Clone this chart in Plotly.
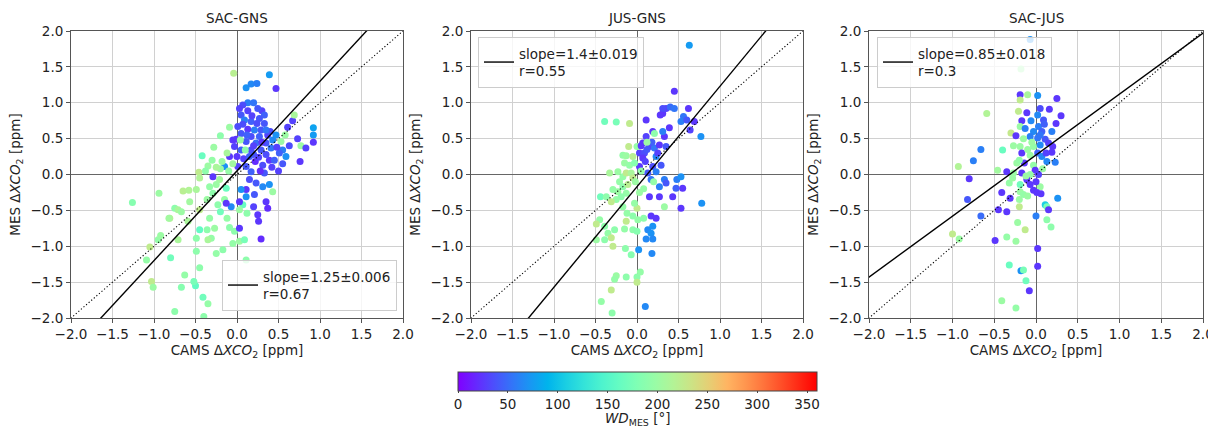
import numpy as np
import plotly.graph_objects as go

# ---------------- data ----------------
panel_titles = ["SAC-GNS", "JUS-GNS", "SAC-JUS"]
fit_slopes = [1.25, 1.4, 0.85]
fit_intercepts = [0.05, -0.17, 0.27]
fit_labels = ["slope=1.25±0.006<br>r=0.67", "slope=1.4±0.019<br>r=0.55", "slope=0.85±0.018<br>r=0.3"]
axis_ticks = [-2.0, -1.5, -1.0, -0.5, 0.0, 0.5, 1.0, 1.5, 2.0]
wd_ticks = [0, 50, 100, 150, 200, 250, 300, 350]

# SAC-GNS
sg_x = [-0.04, 0.39, 0.11, 0.17, 0.24, 0.47, 0.13, 0.20, 0.07, 0.03,
        0.13, 0.30, 0.33, 0.27, 0.05, 0.09, 0.17, 0.24, 0.33, 0.01,
        0.13, 0.21, 0.29, 0.05, 0.17, 0.27, 0.37, -0.01, 0.11, 0.23,
        0.35, -0.05, -0.03, 0.05, 0.17, 0.29, 0.41, -0.09, -0.20, -0.28,
        -0.42, -0.09, 0.04, 0.10, 0.53, 0.67, 0.61, 0.69, 0.92, 0.92,
        0.92, 0.73, 0.77, 0.83, 0.76, 0.55, 0.59, 0.51, 0.43, 0.47,
        0.39, 0.31, 0.22, 0.11, 0.17, 0.33, 0.01, -0.15, -0.29, -0.20,
        -1.26, -0.94, -0.65, -0.46, -0.45, -0.49, -0.57, -0.75, -0.71, -0.81,
        -0.67, -0.59, -0.45, -0.36, -0.29, -0.33, -0.25, -0.21, -0.13, -0.15,
        -0.23, -0.20, -0.33, -0.36, -0.27, -0.31, -0.35, -0.45, -0.49, -0.71,
        -0.95, -1.05, -1.09, -1.03, -1.01, -0.80, -0.63, -0.67, -0.75, -0.50,
        -0.45, -0.41, -0.35, -0.40, -0.49, -0.25, -0.17, -0.05, -0.03, 0.03,
        0.11, 0.03, 0.09, 0.07, 0.03, 0.26, 0.29, 0.25, 0.20, 0.21,
        0.11, 0.03, -0.07, -0.13, 0.35, 0.37, 0.43, 0.39, 0.31, 0.23,
        0.15, 0.11, 0.05, -0.92, -0.82, -0.58, -0.52, -0.12, -0.09, 0.12,
        -0.30, -0.35, -0.25, -0.18, -0.12, -0.38, -0.10, -0.05, 0.00, 0.08,
        0.15, 0.20, 0.26, 0.35, 0.45, 0.48, 0.40, 0.30, 0.20, 0.12,
        0.07, 0.25, 0.18, 0.35, 0.42, 0.28, 0.50, 0.55, 0.63, 0.58]
sg_y = [1.41, 1.39, 1.21, 1.26, 1.27, 1.20, 1.00, 1.00, 0.97, 0.92,
        0.89, 0.89, 0.83, 0.78, 0.83, 0.76, 0.74, 0.71, 0.71, 0.67,
        0.63, 0.62, 0.62, 0.57, 0.53, 0.53, 0.55, 0.49, 0.46, 0.44,
        0.44, 0.48, 0.39, 0.34, 0.34, 0.34, 0.37, 0.66, 0.54, 0.38,
        0.26, 0.25, 0.48, 0.34, 0.46, 0.75, 0.66, 0.83, 0.65, 0.55,
        0.45, 0.50, 0.40, 0.37, 0.18, 0.34, 0.25, 0.30, 0.48, 0.55,
        0.20, 0.13, 0.18, 0.11, 0.04, 0.02, 0.11, 0.11, -0.03, 0.08,
        -0.39, -0.26, -0.23, 0.03, -0.05, -0.21, -0.38, -0.47, -0.49, -0.61,
        -0.52, -0.65, -0.49, -0.35, -0.26, -0.17, -0.14, -0.07, -0.19, -0.35,
        -0.42, -0.52, -0.61, -0.77, -0.75, -0.89, -0.91, -0.77, -0.89, -0.91,
        -0.91, -1.01, -1.19, -1.49, -1.57, -1.16, -1.40, -1.57, -1.91, -1.55,
        -1.30, -1.71, -1.80, -1.98, -1.07, -1.10, -1.05, -0.96, -0.79, -0.93,
        -1.19, -0.75, -0.91, -0.42, -0.49, -0.65, -0.90, -0.56, -0.45, -0.28,
        -0.31, -0.38, -0.45, -0.40, -0.38, -0.47, -0.24, -0.14, -0.17, -0.12,
        -0.07, -0.21, -0.21, -0.85, -0.61, -0.22, -1.49, -0.61, -0.74, -0.54,
        0.20, 0.12, 0.10, 0.18, 0.30, 0.05, 0.05, 0.15, 0.25, 0.22,
        0.25, 0.28, 0.24, 0.28, 0.20, 0.38, 0.60, 0.45, 0.40, 0.55,
        0.70, 0.92, 0.82, 0.62, 0.10, 0.05, 0.05, 0.15, 0.40, 0.55]
sg_wd = [220, 75, 70, 65, 60, 25, 60, 55, 35, 30,
         30, 30, 45, 40, 40, 60, 45, 35, 40, 35,
         25, 60, 40, 40, 35, 45, 30, 25, 40, 50,
         40, 25, 30, 45, 35, 40, 55, 200, 190, 200,
         165, 25, 200, 190, 200, 30, 30, 210, 80, 75,
         25, 30, 200, 30, 25, 60, 70, 45, 65, 70,
         25, 35, 20, 40, 45, 40, 30, 70, 25, 200,
         185, 200, 220, 225, 215, 210, 205, 190, 210, 220,
         200, 210, 225, 200, 190, 195, 200, 205, 165, 195,
         190, 170, 195, 190, 200, 195, 210, 160, 190, 210,
         195, 225, 195, 225, 200, 170, 195, 185, 190, 160,
         190, 170, 195, 190, 190, 195, 190, 195, 190, 200,
         190, 25, 175, 165, 200, 25, 20, 25, 30, 40,
         70, 25, 65, 25, 25, 20, 200, 70, 65, 40,
         35, 25, 70, 200, 205, 215, 175, 195, 190, 190,
         195, 200, 210, 200, 210, 190, 195, 205, 25, 30,
         45, 40, 30, 35, 45, 30, 35, 25, 30, 45,
         35, 40, 30, 55, 30, 20, 30, 40, 35, 200]

# JUS-GNS
jg_x = [0.63, 0.45, 0.11, 0.31, 0.35, 0.40, 0.45, 0.31, 0.28, 0.62,
        0.56, 0.53, 0.60, 0.69, 0.64, 0.77, 0.39, 0.19, 0.11, 0.07,
        0.03, 0.09, 0.15, 0.21, 0.27, 0.33, 0.31, 0.35, 0.23, 0.29,
        0.19, 0.23, 0.13, 0.03, 0.07, 0.21, 0.48, 0.53, 0.47, 0.55,
        0.53, 0.43, 0.33, 0.35, 0.27, 0.17, 0.27, 0.15, 0.78, 0.17,
        0.23, 0.13, 0.19, 0.17, 0.11, 0.19, 0.02, 0.18, 0.10, 0.33,
        0.20, -0.39, -0.25, -0.09, -0.10, -0.17, -0.13, -0.05, 0.00, -0.15,
        -0.09, -0.03, -0.33, -0.23, -0.17, -0.13, -0.07, -0.05, -0.21, -0.17,
        -0.11, -0.13, -0.23, -0.29, -0.19, -0.25, -0.44, -0.37, -0.31, -0.17,
        0.00, -0.03, -0.05, 0.01, 0.08, -0.12, -0.13, -0.45, -0.49, -0.39,
        -0.35, -0.31, -0.27, -0.15, -0.05, 0.00, -0.49, -0.39, -0.29, -0.14,
        -0.07, -0.25, -0.27, -0.13, 0.00, 0.04, 0.00, -0.31, -0.43, -0.30,
        0.05, 0.12, 0.18, 0.25, 0.10, 0.05, -0.02, 0.08, 0.03, 0.12]
jg_y = [1.80, 1.16, 0.76, 0.85, 0.92, 0.94, 0.92, 0.92, 0.83, 0.92,
        0.81, 0.74, 0.76, 0.74, 0.62, 0.53, 0.65, 0.60, 0.53, 0.44,
        0.30, 0.30, 0.39, 0.37, 0.41, 0.53, 0.60, 0.39, 0.25, 0.13,
        0.11, 0.04, 0.02, 0.11, 0.23, 0.57, -0.07, -0.03, -0.19, -0.19,
        -0.47, -0.31, -0.07, -0.12, -0.17, -0.07, -0.31, -0.31, -0.40, -0.58,
        -0.61, -0.77, -0.72, -0.82, -0.90, -0.90, -1.05, -1.10, -1.84, -0.45,
        -0.10, 0.74, 0.73, 0.71, 0.39, 0.27, 0.26, 0.25, 0.39, 0.16,
        0.13, 0.16, 0.02, 0.04, -0.03, 0.02, 0.02, -0.05, -0.10, -0.17,
        -0.14, -0.26, -0.24, -0.21, -0.31, -0.35, -0.31, -0.31, -0.38, -0.45,
        -0.47, -0.40, -0.58, -0.63, -0.61, -0.54, -0.65, -0.63, -0.69, -0.72,
        -0.82, -0.88, -0.77, -0.76, -0.77, -0.79, -0.91, -0.91, -1.00, -1.03,
        -1.12, -1.41, -1.46, -1.43, -1.43, -1.36, -1.50, -1.61, -1.77, -1.93,
        0.40, 0.35, 0.45, 0.30, 0.18, 0.05, -0.10, -0.20, -0.25, 0.45]
jg_wd = [75, 25, 25, 25, 30, 50, 55, 35, 25, 25,
         55, 60, 40, 25, 30, 70, 25, 25, 30, 25,
         30, 35, 30, 55, 25, 25, 60, 40, 65, 40,
         35, 60, 40, 25, 25, 190, 60, 70, 45, 25,
         25, 25, 60, 40, 60, 55, 25, 25, 70, 25,
         25, 65, 70, 70, 65, 65, 70, 65, 65, 200,
         195, 170, 175, 225, 225, 195, 200, 220, 195, 200,
         195, 185, 210, 200, 195, 225, 210, 225, 195, 190,
         220, 195, 200, 195, 190, 195, 170, 190, 225, 195,
         225, 195, 190, 195, 190, 195, 225, 195, 225, 190,
         195, 225, 190, 195, 190, 185, 200, 190, 225, 190,
         185, 200, 195, 190, 190, 195, 225, 225, 195, 190,
         25, 40, 45, 30, 30, 195, 200, 195, 200, 200]

# SAC-JUS
sj_x = [-0.07, -0.18, -0.19, -0.10, 0.02, 0.25, -0.19, 0.05, 0.16, -0.11,
        -0.59, 0.30, -0.21, 0.02, -0.06, -0.17, 0.24, 0.09, 0.03, -0.19,
        -0.13, -0.03, 0.07, 0.19, -0.30, -0.24, -0.07, 0.02, 0.11, -0.27,
        -0.19, -0.03, 0.05, 0.15, -0.40, -0.66, 0.20, 0.19, -0.17, -0.07,
        0.02, 0.07, 0.13, 0.23, -0.75, -0.93, -0.23, -0.14, -0.03, -0.01,
        -0.46, -0.35, -0.27, -0.17, -0.07, -0.80, -0.11, -0.32, -0.19, -0.07,
        0.05, -0.41, -0.31, -0.19, -0.15, -0.03, 0.01, 0.06, -0.20, -0.82,
        0.26, -0.66, -0.45, -0.35, 0.11, 0.13, 0.15, -0.20, 0.00, 0.13,
        0.18, -0.22, -0.13, -1.00, -0.92, -0.49, -0.35, -0.24, 0.02, -0.32,
        -0.18, -0.12, 0.02, -0.08, -0.41, -0.24, -0.15, 0.08, -0.05, 0.10,
        -0.10, -0.20, -0.12, 0.00, 0.05, -0.15, 0.12, -0.28, -0.10, 0.03]
sj_y = [1.88, 1.47, 1.11, 1.11, 1.10, 1.06, 1.04, 0.92, 0.91, 0.86,
        0.85, 0.82, 0.88, 0.83, 0.75, 0.75, 0.71, 0.76, 0.67, 0.67,
        0.64, 0.60, 0.60, 0.60, 0.58, 0.54, 0.53, 0.51, 0.49, 0.40,
        0.39, 0.39, 0.41, 0.44, 0.34, 0.35, 0.39, 0.31, 0.30, 0.27,
        0.30, 0.25, 0.18, 0.17, 0.19, 0.11, 0.16, 0.16, 0.13, 0.06,
        0.06, 0.04, 0.02, 0.02, 0.00, -0.06, -0.07, -0.12, -0.14, -0.14,
        -0.17, -0.25, -0.33, -0.24, -0.28, -0.22, -0.25, -0.27, -0.35, -0.35,
        -0.33, -0.58, -0.49, -0.52, -0.42, -0.45, -0.49, -0.45, -0.58, -0.63,
        -0.73, -0.67, -0.77, -0.83, -0.90, -0.92, -0.87, -0.93, -1.03, -1.26,
        -1.34, -1.48, -1.28, -1.62, -1.76, -1.86, -1.33, 0.08, 0.45, 0.70,
        0.35, 0.20, -0.02, -0.10, 0.55, 0.50, 0.30, -0.05, -0.30, 0.00]
sj_wd = [70, 200, 25, 210, 70, 25, 225, 35, 25, 25,
         215, 25, 225, 65, 65, 25, 25, 40, 60, 200,
         60, 65, 45, 60, 228, 25, 60, 55, 40, 200,
         200, 195, 65, 30, 165, 60, 25, 25, 25, 200,
         45, 65, 65, 60, 60, 215, 200, 25, 195, 25,
         205, 25, 200, 25, 195, 25, 25, 195, 170, 25,
         200, 25, 25, 200, 195, 25, 25, 25, 200, 40,
         70, 50, 25, 25, 110, 175, 25, 225, 60, 190,
         190, 200, 225, 225, 200, 25, 195, 200, 25, 165,
         70, 170, 25, 25, 200, 195, 175, 200, 200, 45,
         200, 195, 200, 25, 55, 200, 30, 200, 200, 30]

panels = [(sg_x, sg_y, sg_wd), (jg_x, jg_y, jg_wd), (sj_x, sj_y, sj_wd)]

# ---------------- colormap (matplotlib 'rainbow') ----------------
stops = np.linspace(0, 1, 21)
rainbow = []
for s in stops:
    r = min(1.0, abs(2 * s - 0.5))
    g = np.sin(np.pi * s)
    b = np.cos(np.pi * s / 2)
    rainbow.append([float(s), f"rgb({int(round(r*255))},{int(round(g*255))},{int(round(b*255))})"])

# ---------------- layout geometry ----------------
W, H = 1208, 427
FONT = "DejaVu Sans"
FS = 13.5


def px_x(p):
    return p / W


def px_y(p):
    return 1 - p / H


x_doms = [(71, 403), (471, 803), (869, 1203)]
y_dom = [px_y(318), px_y(31)]

fig = go.Figure()
legend_pos = [
    dict(x=px_x(397), y=px_y(311), xanchor="right", yanchor="bottom"),
    dict(x=px_x(478), y=px_y(37), xanchor="left", yanchor="top"),
    dict(x=px_x(877), y=px_y(37), xanchor="left", yanchor="top"),
]
line_x = np.array([-2.5, 2.5])

for i, (px, py, pwd) in enumerate(panels):
    sfx = "" if i == 0 else str(i + 1)
    xa, ya = "x" + sfx, "y" + sfx
    lg = "legend" + sfx
    fig.add_trace(go.Scatter(
        x=px, y=py, mode="markers", xaxis=xa, yaxis=ya, showlegend=False,
        marker=dict(size=7, color=pwd, coloraxis="coloraxis", line=dict(width=0)),
    ))
    fig.add_trace(go.Scatter(
        x=line_x, y=line_x, mode="lines", xaxis=xa, yaxis=ya, showlegend=False,
        line=dict(color="black", width=1.1, dash="1.2px,2.2px"),
    ))
    fig.add_trace(go.Scatter(
        x=line_x, y=fit_slopes[i] * line_x + fit_intercepts[i], mode="lines",
        xaxis=xa, yaxis=ya, name=fit_labels[i], legend=lg, showlegend=True,
        line=dict(color="black", width=1.4),
    ))
    axcommon = dict(
        range=[-2, 2], tickvals=axis_ticks, tickformat=".1f",
        showgrid=True, gridcolor="#d0d0d0", gridwidth=1,
        zeroline=True, zerolinecolor="#666666", zerolinewidth=1.2,
        showline=True, linecolor="#555555", linewidth=1, mirror=True,
        ticks="outside", ticklen=4, tickcolor="#555555",
        tickfont=dict(family=FONT, size=FS, color="#222"),
        automargin=False, ticklabeloverflow="allow",
    )
    fig.layout["xaxis" + sfx] = dict(
        axcommon, domain=[px_x(x_doms[i][0]), px_x(x_doms[i][1])], anchor=ya,
        title=dict(text="CAMS Δ<i>XCO</i><sub>2</sub> [ppm]", standoff=2,
                   font=dict(family=FONT, size=FS, color="#222")),
    )
    fig.layout["yaxis" + sfx] = dict(
        axcommon, domain=y_dom, anchor=xa,
        title=dict(text="MES Δ<i>XCO</i><sub>2</sub> [ppm]", standoff=6,
                   font=dict(family=FONT, size=FS, color="#222")),
    )
    fig.layout[lg] = dict(
        legend_pos[i], bgcolor="rgba(255,255,255,0.8)", bordercolor="#cccccc",
        borderwidth=1, font=dict(family=FONT, size=FS, color="#222"),
        itemwidth=30, tracegroupgap=0,
    )
    fig.add_annotation(
        text=panel_titles[i], xref="paper", yref="paper",
        x=(px_x(x_doms[i][0]) + px_x(x_doms[i][1])) / 2, y=y_dom[1],
        xanchor="center", yanchor="bottom", yshift=3, showarrow=False,
        font=dict(family=FONT, size=FS, color="#222"),
    )

# colour-bar title, placed as an annotation under the bar
fig.add_annotation(
    text="<i>WD</i><sub>MES</sub> [°]", xref="paper", yref="paper",
    x=(px_x(458) + px_x(817)) / 2, y=0, xanchor="center", yanchor="bottom",
    yshift=-3, showarrow=False, font=dict(family=FONT, size=FS, color="#222"),
)

fig.update_layout(
    width=W, height=H, margin=dict(l=0, r=0, t=0, b=0, autoexpand=False),
    paper_bgcolor="white", plot_bgcolor="white",
    font=dict(family=FONT, size=FS, color="#222"),
    coloraxis=dict(
        colorscale=rainbow, cmin=0, cmax=360,
        colorbar=dict(
            orientation="h", x=(px_x(458) + px_x(817)) / 2, xanchor="center",
            y=px_y(372), yanchor="top", len=(817 - 458) / W, lenmode="fraction",
            thickness=19, thicknessmode="pixels", xpad=0, ypad=0,
            outlinecolor="#444", outlinewidth=1,
            tickvals=wd_ticks, ticks="outside", ticklen=2, tickcolor="#444",
            tickfont=dict(family=FONT, size=FS, color="#222"),
        ),
    ),
)

# remove the default 8px page margin so the figure fills the window exactly
fig.write_html(
    "out.html",
    config={"displayModeBar": False},
    post_script="document.body.style.margin='0';document.body.style.overflow='hidden';",
)
